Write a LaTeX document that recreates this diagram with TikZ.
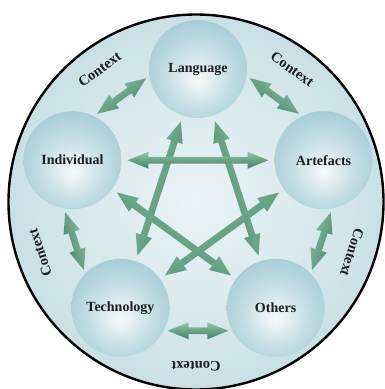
\documentclass[tikz,border=0pt]{standalone}
\usepackage{fontspec}
\setmainfont{Liberation Serif}
\usetikzlibrary{arrows.meta,calc}
\definecolor{garlight}{RGB}{146,198,170}
\definecolor{garmid}{RGB}{104,163,134}
\definecolor{gardark}{RGB}{70,130,102}
\definecolor{bgin}{RGB}{234,243,245}
\definecolor{bgout}{RGB}{160,200,210}
\definecolor{sph1}{RGB}{246,250,251}
\definecolor{sph2}{RGB}{196,222,229}
\definecolor{sph3}{RGB}{140,188,201}
\definecolor{sph4}{RGB}{120,172,186}
\definecolor{txt}{RGB}{28,28,36}
\pgfdeclareradialshading{bgshade}{\pgfpoint{0bp}{0bp}}{color(0bp)=(bgin); color(16bp)=(bgin!75!bgout); color(50bp)=(bgout)}
\pgfdeclareradialshading{sphere}{\pgfpoint{0bp}{-6bp}}{color(0bp)=(sph1); color(16bp)=(sph2); color(40bp)=(sph3); color(54bp)=(sph4)}
\tikzset{
  ball/.style={circle, minimum size=98pt, inner sep=0pt, outer sep=0pt, shading=sphere,
    font=\fontsize{14}{16}\selectfont\bfseries, text=txt},
  ctx/.style={font=\fontsize{14.5}{16}\selectfont\bfseries, text=txt, inner sep=0pt},
  arrowshade/.style={top color=garlight, bottom color=gardark, middle color=garmid}
}
% double-headed block arrow between two points (#1,#2), ends pulled in by #3 and #4
\newcommand\garrow[4]{%
  \path ($(#1)!#3!(#2)$) coordinate (gs) ($(#2)!#4!(#1)$) coordinate (ge);
  \path ($(gs)!21pt!(ge)$) coordinate (gsb) ($(ge)!21pt!(gs)$) coordinate (geb);
  \pgfmathanglebetweenpoints{\pgfpointanchor{gs}{center}}{\pgfpointanchor{ge}{center}}%
  \let\gang\pgfmathresult
  \pgfmathsetmacro\gang{(\gang>270) ? \gang-360 : ((\gang>90) ? \gang-180 : \gang)}%
  \shade[arrowshade, shading angle=\gang] (gs) -- ($(gsb)!8.5pt!90:(ge)$) -- ($(gsb)!3.4pt!90:(ge)$)
    -- ($(geb)!3.4pt!-90:(gs)$) -- ($(geb)!8.5pt!-90:(gs)$) -- (ge)
    -- ($(geb)!8.5pt!90:(gs)$) -- ($(geb)!3.4pt!90:(gs)$)
    -- ($(gsb)!3.4pt!-90:(ge)$) -- ($(gsb)!8.5pt!-90:(ge)$) -- cycle;
}
\begin{document}
\begin{tikzpicture}[x=1pt,y=1pt]
\useasboundingbox (0,0) rectangle (384,389);
\coordinate (O) at (196,187);
\coordinate (P) at (198,188);
\shade[shading=bgshade] (O) circle (187.5);
\draw[line width=2.4pt] (O) circle (187.5);

\node[ball] (lang) at ($(P)+(90:132)$) {Language};
\node[ball] (ind)  at ($(P)+(162:132)$) {Individual};
\node[ball] (tech) at ($(P)+(234:132)$) {Technology};
\node[ball] (oth)  at ($(P)+(306:132)$) {Others};
\node[ball] (art)  at ($(P)+(18:132)$) {Artefacts};

% star connections (centre to centre, starting just outside the spheres)
\foreach \a/\b in {lang/tech, lang/oth, ind/art, ind/oth, art/tech}{
  \garrow{\a.center}{\b.center}{55pt}{55pt}
}
% outer ring connections
\foreach \a/\b in {lang.188/ind.64, ind.260/tech.136, tech.332/oth.208, oth.44/art.280, art.116/lang.352}{
  \garrow{\a}{\b}{4pt}{4pt}
}

\node[ctx, rotate=36]   (c1) at ($(O)+(126:164)$) {Context};
\node[ctx, rotate=-36]  (c2) at ($(O)+(54:164)$) {Context};
\node[ctx, rotate=-108] (c3) at ($(O)+(-18:164)$) {Context};
\node[ctx, rotate=180]  (c4) at ($(O)+(-90:164)$) {Context};
\node[ctx, rotate=108]  (c5) at ($(O)+(198:164)$) {Context};
\end{tikzpicture}
\end{document}
